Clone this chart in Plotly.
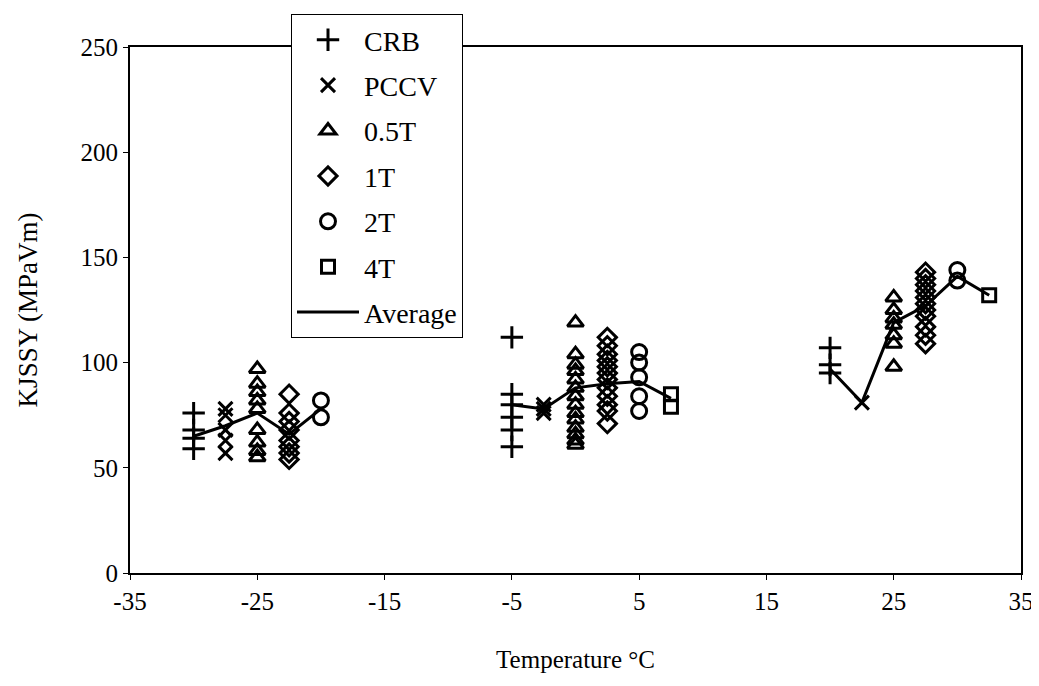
import plotly.graph_objects as go

# ---- data ----
crb_temp = [-30, -30, -30, -30, -5, -5, -5, -5, -5, -5, 20, 20, 20]
crb_k = [76, 68, 64, 59, 112, 85, 80, 74, 68, 60, 107, 99, 95]

pccv_temp = [-27.5, -27.5, -27.5, -27.5, -27.5, -2.5, -2.5, -2.5, 22.5]
pccv_k = [78, 75, 68, 63, 57, 80, 78, 76, 81]

t05_temp = [-25] * 9 + [0] * 14 + [25] * 7
t05_k = [97, 90, 86, 82, 78, 68, 62, 58, 55,
         119, 104, 99, 96, 92, 88, 84, 80, 76, 73, 69, 66, 63, 61,
         131, 125, 121, 118, 113, 109, 98]

t1_temp = [-22.5] * 8 + [2.5] * 12 + [27.5] * 11
t1_k = [85, 76, 72, 68, 63, 60, 57, 54,
        112, 108, 104, 101, 98, 95, 92, 88, 84, 80, 77, 71,
        143, 140, 137, 134, 131, 128, 125, 122, 117, 113, 109]

t2_temp = [-20, -20, 5, 5, 5, 5, 5, 30, 30]
t2_k = [82, 74, 105, 100, 93, 84, 77, 144, 139]

t4_temp = [7.5, 7.5, 32.5]
t4_k = [85, 79, 132]

avg_temp = [-30, -27.5, -25, -22.5, -20, None,
            -5, -2.5, 0, 2.5, 5, 7.5, None,
            20, 22.5, 25, 27.5, 30, 32.5]
avg_k = [65, 70, 76, 66, 78, None,
         80, 78, 88, 90, 91, 83, None,
         97, 81, 119, 127, 141, 132]

x_ticks = [-35, -25, -15, -5, 5, 15, 25, 35]
y_ticks = [0, 50, 100, 150, 200, 250]

FONT = "Liberation Serif, Times New Roman, serif"

fig = go.Figure()

def scatter(name, x, y, symbol, size, group):
    fig.add_trace(go.Scatter(
        x=x, y=y, mode="markers", name=name, legendgroup=group,
        marker=dict(symbol=symbol, size=size, color="black",
                    line=dict(color="black", width=3)),
    ))

scatter("CRB", crb_temp, crb_k, "cross-thin-open", 16, "a")
scatter("PCCV", pccv_temp, pccv_k, "x-thin-open", 14, "b")
scatter("0.5T", t05_temp, t05_k, "triangle-up-open", 14, "c")
scatter("1T", t1_temp, t1_k, "diamond-open", 14, "d")
scatter("2T", t2_temp, t2_k, "circle-open", 15, "e")
scatter("4T", t4_temp, t4_k, "square-open", 13, "f")

fig.add_trace(go.Scatter(
    x=avg_temp, y=avg_k, mode="lines", name="Average", legendgroup="g",
    connectgaps=False, line=dict(color="black", width=3),
))

# page body has an 8px margin, so the figure is sized/offset to compensate
fig.update_layout(
    width=1031, height=678,
    margin=dict(l=122, r=18, t=39, b=113, autoexpand=False),
    paper_bgcolor="white", plot_bgcolor="white",
    font=dict(family=FONT, size=25, color="black"),
    showlegend=True,
    legend=dict(
        x=0.1807, y=1.0627, xanchor="left", yanchor="top",
        bgcolor="white", bordercolor="black", borderwidth=1,
        font=dict(family=FONT, size=28, color="black"),
        tracegroupgap=6, itemwidth=62, traceorder="grouped",
    ),
)

fig.update_xaxes(
    range=[-35, 35], tickvals=x_ticks, ticktext=[str(v) for v in x_ticks],
    showgrid=False, zeroline=False, showline=True, linecolor="black",
    linewidth=2, mirror=True, ticks="outside", ticklen=5, tickcolor="black",
    tickfont=dict(family=FONT, size=25), automargin=False,
    title=dict(text="Temperature °C", font=dict(family=FONT, size=25), standoff=36),
)
fig.update_yaxes(
    range=[0, 250], tickvals=y_ticks, ticktext=[str(v) for v in y_ticks],
    showgrid=False, zeroline=False, showline=True, linecolor="black",
    linewidth=2, mirror=True, ticks="outside", ticklen=5, tickcolor="black",
    tickfont=dict(family=FONT, size=25), automargin=False,
    title=dict(text="KJSSY (MPaVm)", font=dict(family=FONT, size=27), standoff=35),
)

fig.write_html("out.html")
